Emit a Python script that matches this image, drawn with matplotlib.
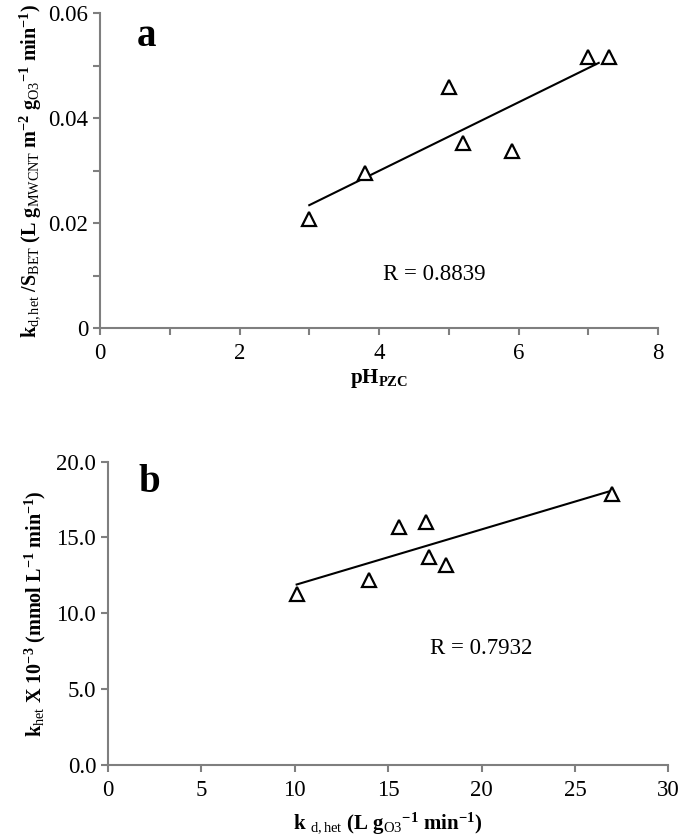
import numpy as np
import matplotlib
matplotlib.use("Agg")
import matplotlib.pyplot as plt

plt.rcParams['font.family'] = ['Liberation Serif', 'DejaVu Serif']
plt.rcParams['mathtext.fontset'] = 'custom'
plt.rcParams['mathtext.rm'] = 'Liberation Serif'
plt.rcParams['mathtext.it'] = 'Liberation Serif:italic'
plt.rcParams['mathtext.bf'] = 'Liberation Serif:bold'

# panel a : kd,het/SBET vs pHpzc
ph_pzc = [3.0, 3.8, 5.0, 5.2, 5.9, 7.0, 7.3]
kd_sbet = [0.0207, 0.0295, 0.046, 0.0352, 0.0338, 0.0516, 0.0516]
fit_a_x = [3.0, 7.15]
fit_a_y = [0.0234, 0.0505]
r_a = "R = 0.8839"

# panel b : khet vs kd,het
kd_het = [10.1, 14.0, 15.6, 17.0, 17.2, 18.1, 27.0]
k_het = [11.3, 12.2, 15.7, 16.0, 13.7, 13.2, 17.9]
fit_b_x = [10.1, 27.0]
fit_b_y = [11.9, 18.1]
r_b = "R = 0.7932"

axcol = '#7f7f7f'
tfs = 16.5


def style(ax):
    for s in ['top', 'right']:
        ax.spines[s].set_visible(False)
    for s in ['left', 'bottom']:
        ax.spines[s].set_color(axcol)
        ax.spines[s].set_linewidth(1.5)
    ax.tick_params(which='both', direction='out', length=5, width=1.5,
                   color=axcol, labelsize=tfs, labelcolor='black')
    ax.tick_params(axis='x', pad=6)


fig = plt.figure(figsize=(6.85, 8.4), dpi=100)

# ---- a
ax1 = fig.add_axes([0.146, 0.6095, 0.8146, 0.375])
ax1.plot(fit_a_x, fit_a_y, color='black', lw=1.5)
ax1.plot(ph_pzc, kd_sbet, ls='none', marker='^', ms=10, mfc='white',
         mec='black', mew=1.6)
ax1.set_xlim(0, 8)
ax1.set_ylim(0, 0.06)
ax1.set_xticks(np.arange(0, 9, 2))
ax1.set_xticks(np.arange(1, 9, 2), minor=True)
ax1.set_yticks([0, 0.02, 0.04, 0.06])
ax1.set_yticklabels(['0', '0.02', '0.04', '0.06'])
ax1.set_yticks([0.01, 0.03, 0.05], minor=True)
style(ax1)
ax1.text(4.8, 0.0101, r_a, fontsize=tfs, ha='center', va='center')
ax1.text(0.065, 0.925, 'a', transform=ax1.transAxes, fontsize=28,
         fontweight='bold', va='center')
ax1.set_xlabel(r'pH$_{\mathbf{PZC}}$', fontsize=15, fontweight='bold', labelpad=2)
ax1.set_ylabel(r'k$_{\mathrm{d,het}}$ /S$_{\mathrm{BET}}$ (L g$_{\mathrm{MWCNT}}$ '
               r'm$^{\mathbf{-2}}$ g$_{\mathrm{O3}}$$^{\mathbf{-1}}$ min$^{\mathbf{-1}}$)',
               fontsize=14.5, fontweight='bold', labelpad=4)

# ---- b
ax2 = fig.add_axes([0.1577, 0.0893, 0.8179, 0.3611])
ax2.plot(fit_b_x, fit_b_y, color='black', lw=1.5)
ax2.plot(kd_het, k_het, ls='none', marker='^', ms=10, mfc='white',
         mec='black', mew=1.6)
ax2.set_xlim(0, 30)
ax2.set_ylim(0, 20)
ax2.set_xticks(np.arange(0, 31, 5))
ax2.set_yticks(np.arange(0, 21, 5))
ax2.set_yticklabels(['%.1f' % v for v in np.arange(0, 21, 5)])
style(ax2)
ax2.text(20.0, 7.7, r_b, fontsize=tfs, ha='center', va='center')
ax2.text(0.055, 0.93, 'b', transform=ax2.transAxes, fontsize=28,
         fontweight='bold', va='center')
ax2.set_xlabel(r'k $_{\mathrm{d,het}}$ (L g$_{\mathrm{O3}}$$^{\mathbf{-1}}$ min$^{\mathbf{-1}}$)',
               fontsize=15, fontweight='bold', labelpad=7)
ax2.set_ylabel(r'k$_{\mathrm{het}}$ X 10$^{\mathbf{-3}}$ (mmol L$^{\mathbf{-1}}$ min$^{\mathbf{-1}}$)',
               fontsize=14.5, fontweight='bold', labelpad=6)

fig.savefig('out.png', dpi=100)
